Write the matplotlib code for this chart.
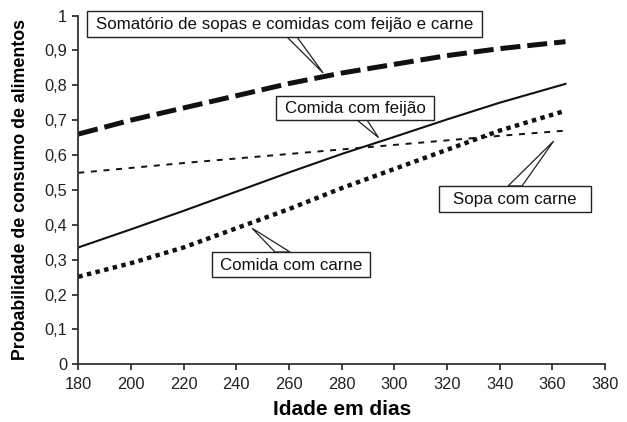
import matplotlib
matplotlib.use("Agg")
import matplotlib.pyplot as plt
from matplotlib.patches import Polygon, Rectangle

plt.rcParams['font.family'] = ['Liberation Sans', 'DejaVu Sans']
plt.rcParams['lines.scale_dashes'] = False

days = [180, 200, 220, 240, 260, 280, 300, 320, 340, 365]
somatorio = [0.66, 0.70, 0.735, 0.77, 0.805, 0.835, 0.86, 0.885, 0.905, 0.925]
comida_feijao = [0.335, 0.387, 0.440, 0.495, 0.550, 0.603, 0.652, 0.702, 0.750, 0.804]
sopa_carne = [0.549, 0.563, 0.577, 0.590, 0.603, 0.616, 0.629, 0.642, 0.655, 0.670]
comida_carne = [0.251, 0.290, 0.335, 0.390, 0.445, 0.505, 0.560, 0.615, 0.670, 0.727]

labels = ["Somatório de sopas e comidas com feijão e carne", "Comida com feijão",
          "Sopa com carne", "Comida com carne"]

xticks = [180, 200, 220, 240, 260, 280, 300, 320, 340, 360, 380]
yticks = [0, 0.1, 0.2, 0.3, 0.4, 0.5, 0.6, 0.7, 0.8, 0.9, 1.0]
ytick_labels = ["0", "0,1", "0,2", "0,3", "0,4", "0,5", "0,6", "0,7", "0,8", "0,9", "1"]

W, H = 627, 422
fig = plt.figure(figsize=(W / 100, H / 100), dpi=100)
ax = fig.add_axes([78.3 / W, 1 - 364.3 / H, (605 - 78.3) / W, (364.3 - 15.5) / H])

col = '#111111'
ax.plot(days, somatorio, color=col, lw=3.6, dashes=(14.4, 5.0), solid_capstyle='butt', dash_capstyle='butt')
ax.plot(days, comida_feijao, color=col, lw=1.5)
ax.plot(days, sopa_carne, color=col, lw=1.4, dashes=(4.3, 4.8), dash_capstyle='butt')
ax.plot(days, comida_carne, color=col, lw=3.2, dashes=(3.2, 3.2), dash_capstyle='butt')

ax.set_xlim(180, 380)
ax.set_ylim(0, 1)
ax.set_xticks(xticks)
ax.set_xticklabels([str(t) for t in xticks])
ax.set_yticks(yticks)
ax.set_yticklabels(ytick_labels)
ax.tick_params(axis='both', direction='out', length=4, width=1.2, labelsize=11.8, colors='#222222')
ax.tick_params(axis='y', pad=4)
ax.tick_params(axis='x', pad=5)
for s in ['top', 'right']:
    ax.spines[s].set_visible(False)
for s in ['left', 'bottom']:
    ax.spines[s].set_linewidth(1.3)
    ax.spines[s].set_color('#333333')

ax.set_xlabel("Idade em dias", fontsize=15, fontweight='bold', labelpad=6)
ax.set_ylabel("Probabilidade de consumo de alimentos", fontsize=12.8, fontweight='bold', labelpad=11)

inv = fig.transFigure.inverted()

def px(x, y):
    return (x / W, 1 - y / H)

def callout(text, box, base, tip_data):
    x0, y0, x1, y1 = box
    tip = inv.transform(ax.transData.transform(tip_data))
    fig.patches.append(Polygon([px(*base[0]), px(*base[1]), tip], closed=True,
                               transform=fig.transFigure, fc='white', ec='#222222',
                               lw=0.9, zorder=1.5))
    fig.patches.append(Rectangle(px(x0, y1), (x1 - x0) / W, (y1 - y0) / H,
                                 transform=fig.transFigure, fc='white', ec='#222222',
                                 lw=1.0, zorder=2))
    cx, cy = px((x0 + x1) / 2, (y0 + y1) / 2 + 0.5)
    fig.text(cx, cy, text, ha='center', va='center', fontsize=12.2, color='#111111', zorder=3)

callout(labels[0], (87, 11, 482, 37), [(287, 37), (297, 37)], (273, 0.835))
callout(labels[1], (276, 96, 434, 120), [(357, 120), (367, 120)], (294, 0.65))
callout(labels[2], (439, 186, 591, 212), [(508, 186), (522, 186)], (360.5, 0.64))
callout(labels[3], (212, 252, 370, 277), [(275, 252), (290, 252)], (246, 0.39))

fig.savefig("out.png", dpi=100)
